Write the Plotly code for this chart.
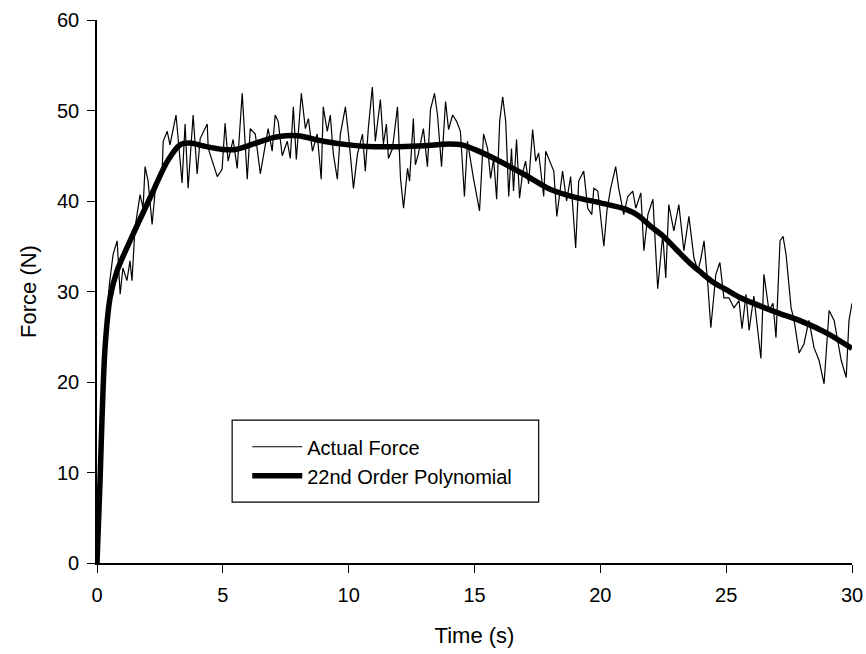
import plotly.graph_objects as go

# Actual force trace (time s, force N)
act_t = [0, 0.1, 0.2, 0.3, 0.4, 0.5, 0.64, 0.80, 0.92, 1.03, 1.19, 1.31, 1.39, 1.51, 1.71, 1.83, 1.91, 2.03,
         2.19, 2.31, 2.43, 2.59, 2.63, 2.79, 2.90, 3.14, 3.26, 3.38, 3.50, 3.62, 3.82, 3.98, 4.10, 4.38,
         4.42, 4.78, 4.97, 5.09, 5.21, 5.41, 5.57, 5.77, 5.97, 6.09, 6.29, 6.49, 6.80, 6.96, 7.08, 7.20,
         7.36, 7.56, 7.68, 7.80, 7.92, 8.12, 8.28, 8.40, 8.56, 8.75, 8.91, 8.99, 9.15, 9.27, 9.39, 9.55,
         9.67, 9.87, 9.99, 10.19, 10.35, 10.55, 10.66, 10.78, 10.94, 11.06, 11.26, 11.38, 11.50, 11.58,
         11.74, 11.94, 12.06, 12.18, 12.34, 12.42, 12.57, 12.65, 12.77, 12.97, 13.13, 13.25, 13.41, 13.53,
         13.69, 13.85, 13.97, 14.13, 14.29, 14.44, 14.60, 14.72, 14.96, 15.20, 15.36, 15.52, 15.64, 15.76,
         15.88, 16.00, 16.12, 16.24, 16.36, 16.47, 16.55, 16.67, 16.79, 16.91, 17.03, 17.15, 17.31, 17.43,
         17.55, 17.75, 17.83, 18.03, 18.15, 18.27, 18.50, 18.66, 18.82, 19.02, 19.14, 19.34, 19.50, 19.66,
         19.74, 19.90, 20.14, 20.26, 20.41, 20.61, 20.73, 20.93, 21.09, 21.29, 21.41, 21.61, 21.73, 21.89,
         22.09, 22.28, 22.48, 22.60, 22.72, 22.92, 23.12, 23.32, 23.52, 23.72, 23.88, 24.00, 24.12, 24.27,
         24.39, 24.59, 24.75, 24.91, 25.11, 25.31, 25.51, 25.63, 25.79, 25.91, 26.10, 26.38, 26.50, 26.70,
         26.86, 26.98, 27.14, 27.26, 27.38, 27.58, 27.70, 27.90, 28.09, 28.29, 28.49, 28.69, 28.89, 29.09,
         29.29, 29.57, 29.77, 29.88, 30.00]
act_f = [0, 8, 18, 24, 28, 31, 34.1, 35.6, 29.7, 32.6, 31.2, 33.4, 31.2, 37.0, 40.7, 39.2, 43.8, 42.2,
         37.4, 41.1, 41.9, 43.3, 46.6, 47.7, 46.2, 49.5, 45.8, 42.0, 48.5, 41.4, 49.5, 43.0, 46.9, 48.5,
         45.8, 42.7, 43.5, 48.6, 44.4, 46.8, 43.6, 51.9, 42.4, 48.0, 47.4, 43.0, 48.0, 45.5, 49.5, 48.8,
         45.0, 46.6, 44.7, 50.4, 44.6, 51.9, 48.0, 49.1, 45.5, 47.4, 42.4, 50.4, 47.7, 49.5, 45.2, 42.4,
         47.4, 50.4, 47.4, 41.4, 45.2, 47.4, 43.3, 48.0, 52.6, 46.6, 51.2, 46.3, 48.5, 44.7,
         45.8, 50.4, 42.5, 39.2, 43.6, 42.2, 49.1, 44.0, 45.2, 48.0, 43.8, 50.1, 51.9, 49.5,
         43.8, 51.0, 47.9, 49.5, 48.8, 47.7, 40.5, 46.6, 42.5, 38.9, 47.4, 45.8, 42.5, 44.7,
         40.2, 48.8, 51.5, 48.8, 40.5, 45.8, 41.1, 46.8, 40.3, 43.1, 44.4, 41.9, 47.9, 44.4,
         45.3, 40.5, 45.5, 44.2, 43.3, 38.3, 43.3, 40.0, 42.7, 34.8, 42.2, 43.3, 39.2, 38.5,
         41.4, 41.1, 35.0, 38.9, 41.4, 43.8, 41.4, 38.5, 40.5, 41.1, 39.2, 40.9, 34.5, 38.5,
         40.2, 30.3, 36.3, 31.5, 39.6, 36.7, 39.6, 34.5, 38.3, 33.7, 32.3, 33.7, 35.6, 30.8,
         26.0, 31.9, 33.2, 29.3, 29.3, 28.2, 29.0, 25.9, 29.7, 25.7, 29.5, 22.6, 31.9, 27.9,
         28.7, 24.9, 35.6, 36.1, 34.1, 28.2, 26.8, 23.2, 24.2, 26.8, 23.8, 22.4, 19.8, 27.9,
         26.8, 22.4, 20.5, 26.8, 28.7]

# 22nd order polynomial fit
poly_t = [0, 0.12, 0.2, 0.32, 0.52, 0.8, 1.43, 2.1, 2.8, 3.3, 3.7, 4.2, 5.0, 5.5, 6.0, 7.0, 7.5, 8.0,
          9.0, 10.0, 11.0, 12.0, 13.0, 14.0, 14.5, 15.0, 16.0, 17.0, 18.0, 19.0, 20.0, 21.0, 21.5,
          22.0, 22.5, 23.0, 23.5, 24.0, 24.5, 25.0, 25.5, 26.0, 27.0, 28.0, 29.0, 30.0]
poly_f = [0, 9, 16, 23.8, 29.3, 32.3, 36.3, 40.3, 44.4, 46.2, 46.4, 46.1, 45.7, 45.7, 46.1, 47.0, 47.2, 47.2,
          46.6, 46.2, 46.0, 46.0, 46.1, 46.3, 46.2, 45.7, 44.4, 42.9, 41.3, 40.4, 39.8, 39.1, 38.4,
          37.2, 36.1, 34.7, 33.3, 32.1, 31.0, 30.2, 29.4, 28.8, 27.7, 26.7, 25.4, 23.7]

x_ticks = [0, 5, 10, 15, 20, 25, 30]
y_ticks = [0, 10, 20, 30, 40, 50, 60]

font = "Liberation Sans, Arial, sans-serif"

fig = go.Figure()
fig.add_trace(go.Scatter(x=act_t, y=act_f, mode="lines", name="Actual Force",
                         line=dict(color="black", width=1.2)))
fig.add_trace(go.Scatter(x=poly_t, y=poly_f, mode="lines", name="22nd Order Polynomial",
                         line=dict(color="black", width=5.5, shape="spline", smoothing=0.8)))

fig.update_layout(
    width=866, height=654,
    margin=dict(l=97, r=14, t=20, b=91),
    paper_bgcolor="white", plot_bgcolor="white",
    font=dict(family=font, size=20, color="black"),
    showlegend=True,
    legend=dict(x=0.199, y=0.250, xanchor="left", yanchor="top",
                borderwidth=0, bgcolor="rgba(0,0,0,0)",
                font=dict(size=20), itemwidth=50, tracegroupgap=0),
    shapes=[dict(type="rect", xref="paper", yref="paper",
                 x0=0.179, x1=0.585, y0=0.112, y1=0.263,
                 line=dict(color="black", width=1.2), fillcolor="white", layer="below")],
    xaxis=dict(range=[0, 30], tickvals=x_ticks, showgrid=False, zeroline=False,
               showline=True, linecolor="black", linewidth=1.6, automargin=False,
               ticks="outside", ticklen=8, tickcolor="black", tickwidth=1.3,
               ticklabelstandoff=5,
               title=dict(text="Time (s)", font=dict(size=22), standoff=23)),
    yaxis=dict(range=[0, 60], tickvals=y_ticks, showgrid=False, zeroline=False,
               showline=True, linecolor="black", linewidth=1.6, automargin=False,
               ticks="outside", ticklen=8, tickcolor="black", tickwidth=1.3,
               ticklabelstandoff=4,
               title=dict(text="Force (N)", font=dict(size=22), standoff=14)),
)

fig.write_html("out.html")
